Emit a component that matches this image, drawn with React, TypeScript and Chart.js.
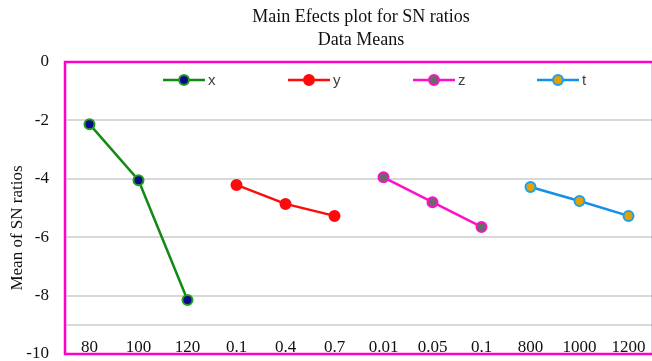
import React, { useEffect, useRef } from "react";
import { Chart, registerables } from "chart.js";

Chart.register(...registerables);

const categories = ["80", "100", "120", "0.1", "0.4", "0.7", "0.01", "0.05", "0.1", "800", "1000", "1200"];
const seriesX = [-2.13, -4.05, -8.15, null, null, null, null, null, null, null, null, null];
const seriesY = [null, null, null, -4.21, -4.86, -5.27, null, null, null, null, null, null];
const seriesZ = [null, null, null, null, null, null, -3.95, -4.8, -5.65, null, null, null];
const seriesT = [null, null, null, null, null, null, null, null, null, -4.28, -4.76, -5.27];
const yTicks = [0, -2, -4, -6, -8, -9, -10];
const titleLines = ["Main Efects plot for SN ratios", "Data Means"];
const yTitle = "Mean of SN ratios";

const MAGENTA = "#ff00cc";

const decorPlugin = {
  id: "decor",
  afterDraw(chart: any) {
    const { ctx, chartArea } = chart;
    const { left, top, right, bottom } = chartArea;
    ctx.save();
    // border
    ctx.strokeStyle = MAGENTA;
    ctx.lineWidth = 2.5;
    ctx.strokeRect(left, top, right - left, bottom - top);
    // title
    ctx.fillStyle = "#111";
    ctx.font = "18px 'Liberation Serif', serif";
    ctx.textAlign = "center";
    ctx.textBaseline = "middle";
    const cx = (left + right) / 2 + 2;
    ctx.fillText(titleLines[0], cx, 17);
    ctx.fillText(titleLines[1], cx, 40);
    // y title
    ctx.save();
    ctx.font = "17px 'Liberation Serif', serif";
    ctx.translate(18, 228);
    ctx.rotate(-Math.PI / 2);
    ctx.fillText(yTitle, 0, 0);
    ctx.restore();
    // legend
    const legendY = top + 18;
    const starts = [163, 288, 413, 537];
    ctx.font = "15px 'Liberation Sans', Arial, sans-serif";
    ctx.textAlign = "left";
    chart.data.datasets.forEach((ds: any, i: number) => {
      const x0 = starts[i];
      ctx.strokeStyle = ds.borderColor;
      ctx.lineWidth = 2.5;
      ctx.beginPath();
      ctx.moveTo(x0, legendY);
      ctx.lineTo(x0 + 42, legendY);
      ctx.stroke();
      ctx.beginPath();
      ctx.arc(x0 + 21, legendY, 5, 0, Math.PI * 2);
      ctx.fillStyle = ds.pointBackgroundColor;
      ctx.fill();
      ctx.lineWidth = 2;
      ctx.strokeStyle = ds.pointBorderColor;
      ctx.stroke();
      ctx.fillStyle = "#404040";
      ctx.fillText(ds.label, x0 + 45, legendY + 1);
    });
    ctx.restore();
  },
};

export default function App() {
  const ref = useRef<HTMLCanvasElement | null>(null);
  useEffect(() => {
    if (!ref.current) return;
    const mk = (label: string, data: (number | null)[], line: string, fill: string, border: string) => ({
      label,
      data,
      borderColor: line,
      backgroundColor: line,
      pointBackgroundColor: fill,
      pointBorderColor: border,
      pointBorderWidth: 2,
      pointRadius: 5,
      borderWidth: 2.5,
      spanGaps: false,
    });
    const chart = new Chart(ref.current, {
      type: "line",
      data: {
        labels: categories,
        datasets: [
          mk("x", seriesX, "#138a13", "#0a0a8a", "#22a022"),
          mk("y", seriesY, "#ff0a0a", "#ff0a0a", "#ff0a0a"),
          mk("z", seriesZ, "#ff10c8", "#6a6a6a", "#ff10c8"),
          mk("t", seriesT, "#1390e8", "#e8a000", "#1aa0f0"),
        ],
      },
      options: {
        responsive: false,
        animation: false,
        layout: { padding: { top: 62, bottom: 7, right: 3, left: 0 } },
        plugins: { legend: { display: false }, title: { display: false }, tooltip: { enabled: false } },
        scales: {
          x: {
            offset: true,
            afterFit: (s: any) => {
              s.height = 0;
              s.paddingLeft = 0;
              s.paddingRight = 0;
            },
            grid: { display: false, drawTicks: false },
            border: { display: false },
            ticks: {
              mirror: true,
              padding: -4,
              color: "#111",
              font: { family: "'Liberation Serif', serif", size: 17 },
              maxRotation: 0,
              autoSkip: false,
            },
          },
          y: {
            min: -10,
            max: 0,
            afterBuildTicks: (s: any) => {
              s.ticks = yTicks.map((v) => ({ value: v }));
            },
            afterFit: (s: any) => {
              s.width = 65;
              s.paddingTop = 0;
              s.paddingBottom = 0;
            },
            grid: { color: "#d9d9d9", lineWidth: 2, drawTicks: false },
            border: { display: false },
            ticks: {
              padding: 16,
              color: "#111",
              font: { family: "'Liberation Serif', serif", size: 17 },
              callback: (v: any) => (v === -9 ? "" : String(v)),
            },
          },
        },
      },
      plugins: [decorPlugin],
    });
    return () => chart.destroy();
  }, []);
  return (
    <div style={{ position: "fixed", left: 0, top: 0, width: 660, height: 361, background: "#fff" }}>
      <canvas ref={ref} width={660} height={361} />
    </div>
  );
}
